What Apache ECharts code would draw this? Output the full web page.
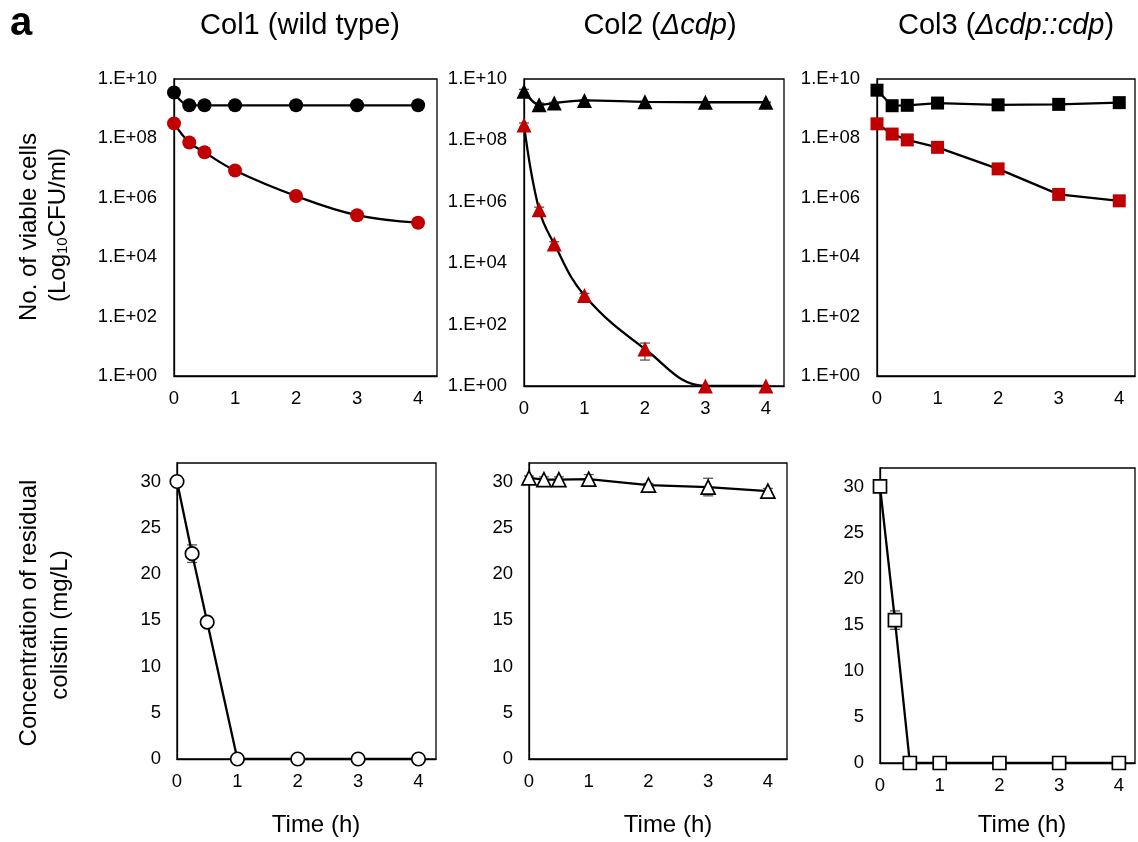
<!DOCTYPE html>
<html>
<head>
<meta charset="utf-8">
<script src="https://cdn.jsdelivr.net/npm/echarts@6/dist/echarts.min.js"></script>
<style>html,body{margin:0;padding:0;background:#fff}#c{width:1138px;height:842px}</style>
</head>
<body>
<div id="c"></div>
<script>
// ---- data ----
const times = [0, 0.25, 0.5, 1, 2, 3, 4];
const xTickLabels = ['0', '1', '2', '3', '4'];
const logTickLabels = ['1.E+00', '1.E+02', '1.E+04', '1.E+06', '1.E+08', '1.E+10'];
const concTickLabels = ['0', '5', '10', '15', '20', '25', '30'];
const panelTitles = ['Col1 (wild type)', 'Col2 (Δcdp)', 'Col3 (Δcdp::cdp)'];

const col1Control = [3.5e9, 1.3e9, 1.3e9, 1.3e9, 1.3e9, 1.3e9, 1.3e9];
const col1Colistin = [3.2e8, 7.3e7, 3.4e7, 8.3e6, 1.15e6, 2.6e5, 1.45e5];
const col2Control = [4.0e9, 1.45e9, 1.65e9, 2.0e9, 1.8e9, 1.75e9, 1.75e9];
const col2ControlErr = [0.6e9, 0.2e9, 0.1e9, 0.1e9, 0.05e9, 0.05e9, 0.05e9];
const col2Colistin = [3.2e8, 5.5e5, 4.2e4, 890, 16, 1, 1];
const col2ColistinErr = [0.5e8, 1.2e5, 8e3, 150, 9, 0, 0];
const col3Control = [4.2e9, 1.26e9, 1.3e9, 1.55e9, 1.35e9, 1.4e9, 1.6e9];
const col3Colistin = [3.1e8, 1.4e8, 8.9e7, 5.0e7, 9.4e6, 1.3e6, 7.9e5];

const col1Residual = [30, 22.2, 14.8, 0, 0, 0, 0];
const col1ResidualErr = [0, 0.95, 0.2, 0, 0, 0, 0];
const col2Residual = [30.4, 30.2, 30.2, 30.25, 29.6, 29.4, 28.95];
const col2ResidualErr = [0.2, 0.3, 0.3, 0.5, 0.2, 0.95, 0.3];
const col3Residual = [30, 15.5, 0, 0, 0, 0, 0];
const col3ResidualErr = [0, 1.0, 0, 0, 0, 0, 0];

// ---- helpers ----
const FONT = '"Liberation Sans", Arial, sans-serif';
const RED = '#C00000';
const pairs = (ys) => times.map((t, i) => [t, ys[i]]);
const errTriples = (ys, es) => times.map((t, i) => [t, ys[i], es[i]]);

const grids = [
  {left: 174, top: 79, width: 263, height: 297},
  {left: 524, top: 79, width: 260, height: 307},
  {left: 877, top: 79, width: 259, height: 297},
  {left: 177, top: 463, width: 259, height: 296},
  {left: 529, top: 463, width: 258, height: 296},
  {left: 880, top: 468, width: 256, height: 295}
];
const xMax = [4.31, 4.3, 4.26, 4.29, 4.32, 4.27];

function xAxisFor(i) {
  return {
    type: 'value', gridIndex: i, min: 0, max: xMax[i], interval: 1,
    axisLine: {show: true, onZero: false, lineStyle: {color: '#000', width: 1.3}},
    axisTick: {show: false}, splitLine: {show: false},
    axisLabel: {
      margin: 13, color: '#000', fontFamily: FONT, fontSize: 18.5,
      formatter: v => { const k = Math.round(v); return Math.abs(v - k) < 1e-6 && xTickLabels[k] !== undefined ? xTickLabels[k] : ''; }
    }
  };
}
function logYAxis(i) {
  return {
    type: 'log', logBase: 10, gridIndex: i, min: 1, max: 1e10, interval: 2,
    axisLine: {show: true, lineStyle: {color: '#000', width: 1.3}},
    axisTick: {show: false}, splitLine: {show: false},
    axisLabel: {
      margin: 17, color: '#000', fontFamily: FONT, fontSize: 18.5,
      formatter: v => { const e = Math.round(Math.log10(v)); return (e % 2 === 0 && logTickLabels[e / 2]) ? logTickLabels[e / 2] : ''; }
    }
  };
}
function concYAxis(i) {
  return {
    type: 'value', gridIndex: i, min: 0, max: 32, interval: 5,
    axisLine: {show: true, lineStyle: {color: '#000', width: 1.3}},
    axisTick: {show: false}, splitLine: {show: false},
    axisLabel: {
      margin: 16, color: '#000', fontFamily: FONT, fontSize: 18.5,
      formatter: v => (v % 5 === 0 && concTickLabels[v / 5] !== undefined) ? concTickLabels[v / 5] : ''
    }
  };
}
function lineSeries(i, ys, symbol, size, filled, color, smooth) {
  return {
    type: 'line', xAxisIndex: i, yAxisIndex: i, data: pairs(ys),
    symbol: symbol, symbolSize: size, smooth: smooth, z: 3,
    lineStyle: {color: '#000', width: 2.3},
    itemStyle: filled ? {color: color, borderWidth: 0, opacity: 1}
                      : {color: '#fff', borderColor: '#000', borderWidth: 1.7, opacity: 1},
    emphasis: {disabled: true}, animation: false
  };
}
function errSeries(i, ys, es) {
  return {
    type: 'custom', xAxisIndex: i, yAxisIndex: i, z: 2, animation: false,
    data: errTriples(ys, es).filter(d => d[2] > 0),
    renderItem: function (params, api) {
      const x = api.value(0), y = api.value(1), e = api.value(2);
      const lo = Math.max(y - e, 1e-12);
      const p1 = api.coord([x, y + e]);
      const p2 = api.coord([x, lo]);
      const w = 5;
      const st = {stroke: '#555', lineWidth: 1.3};
      return {type: 'group', children: [
        {type: 'line', shape: {x1: p1[0], y1: p1[1], x2: p2[0], y2: p2[1]}, style: st},
        {type: 'line', shape: {x1: p1[0] - w, y1: p1[1], x2: p1[0] + w, y2: p1[1]}, style: st},
        {type: 'line', shape: {x1: p2[0] - w, y1: p2[1], x2: p2[0] + w, y2: p2[1]}, style: st}
      ]};
    }
  };
}

const TF = '29px ' + FONT;
const option = {
  backgroundColor: '#fff',
  animation: false,
  grid: grids.map(g => Object.assign({show: true, borderColor: '#000', borderWidth: 1.3, backgroundColor: 'transparent'}, g)),
  xAxis: [0, 1, 2, 3, 4, 5].map(xAxisFor),
  yAxis: [logYAxis(0), logYAxis(1), logYAxis(2), concYAxis(3), concYAxis(4), concYAxis(5)],
  series: [
    lineSeries(0, col1Control, 'circle', 14, true, '#000', 0.4),
    lineSeries(0, col1Colistin, 'circle', 14, true, RED, 0.4),
    errSeries(1, col2Control, col2ControlErr),
    errSeries(1, col2Colistin, col2ColistinErr),
    lineSeries(1, col2Control, 'triangle', 15, true, '#000', 0.3),
    lineSeries(1, col2Colistin, 'triangle', 15, true, RED, 0.4),
    lineSeries(2, col3Control, 'rect', 13, true, '#000', false),
    lineSeries(2, col3Colistin, 'rect', 13, true, RED, false),
    errSeries(3, col1Residual, col1ResidualErr),
    lineSeries(3, col1Residual, 'circle', 13.5, false, '#fff', false),
    errSeries(4, col2Residual, col2ResidualErr),
    lineSeries(4, col2Residual, 'triangle', 14, false, '#fff', false),
    errSeries(5, col3Residual, col3ResidualErr),
    lineSeries(5, col3Residual, 'rect', 13, false, '#fff', false)
  ],
  graphic: [
    {type: 'text', left: 10, top: 4, style: {text: 'a', font: 'bold 40px ' + FONT, fill: '#000'}},
    {type: 'text', x: 300, y: 26, style: {text: panelTitles[0], font: TF, fill: '#000', align: 'center', verticalAlign: 'middle'}},
    {type: 'text', x: 660, y: 26, style: {
      text: '{n|Col2 (}{i|Δcdp}{n|)}', align: 'center', verticalAlign: 'middle',
      rich: {n: {font: TF, fill: '#000'}, i: {font: 'italic ' + TF, fill: '#000'}}}},
    {type: 'text', x: 1006, y: 26, style: {
      text: '{n|Col3 (}{i|Δcdp::cdp}{n|)}', align: 'center', verticalAlign: 'middle',
      rich: {n: {font: TF, fill: '#000'}, i: {font: 'italic ' + TF, fill: '#000'}}}},
    {type: 'text', x: 29, y: 227, rotation: Math.PI / 2, style: {text: 'No. of viable cells', font: '24px ' + FONT, fill: '#000', align: 'center', verticalAlign: 'middle'}},
    {type: 'text', x: 58, y: 225, rotation: Math.PI / 2, style: {
      text: '{n|(Log}{s|10}{n|CFU/ml)}', align: 'center', verticalAlign: 'middle',
      rich: {n: {font: '24px ' + FONT, fill: '#000'}, s: {font: '15px ' + FONT, fill: '#000', padding: [10, 0, 0, 0]}}}},
    {type: 'text', x: 29, y: 613, rotation: Math.PI / 2, style: {text: 'Concentration of residual', font: '24px ' + FONT, fill: '#000', align: 'center', verticalAlign: 'middle'}},
    {type: 'text', x: 60, y: 625, rotation: Math.PI / 2, style: {text: 'colistin (mg/L)', font: '24px ' + FONT, fill: '#000', align: 'center', verticalAlign: 'middle'}},
    {type: 'text', x: 316, y: 825, style: {text: 'Time (h)', font: '24px ' + FONT, fill: '#000', align: 'center', verticalAlign: 'middle'}},
    {type: 'text', x: 668, y: 825, style: {text: 'Time (h)', font: '24px ' + FONT, fill: '#000', align: 'center', verticalAlign: 'middle'}},
    {type: 'text', x: 1022, y: 825, style: {text: 'Time (h)', font: '24px ' + FONT, fill: '#000', align: 'center', verticalAlign: 'middle'}}
  ]
};
const chart = echarts.init(document.getElementById('c'), null, {renderer: 'canvas'});
chart.setOption(option);
</script>
</body>
</html>
